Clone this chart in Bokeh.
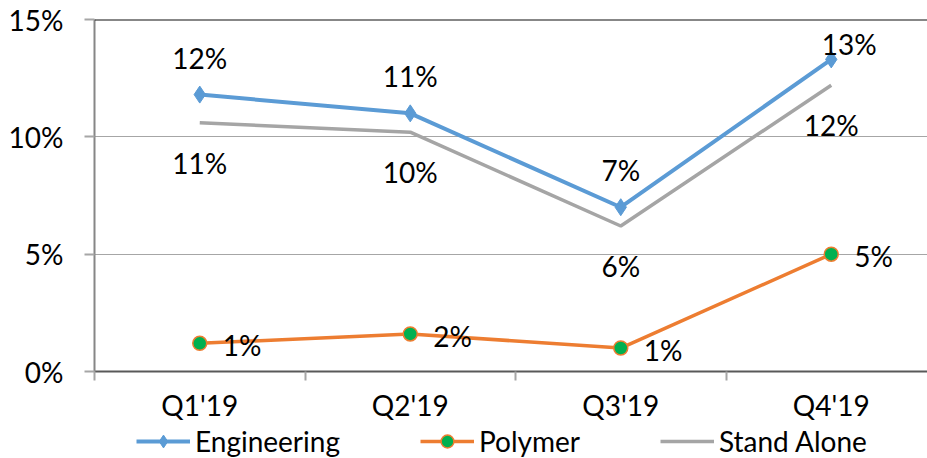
import numpy as np
from bokeh.plotting import figure
from bokeh.layouts import column
from bokeh.core.properties import value
from bokeh.models import (ColumnDataSource, FixedTicker, PrintfTickFormatter,
                          Span, Legend, LegendItem, Range1d)
from bokeh.embed import file_html
from bokeh.resources import INLINE

# Quarterly margin data (in percent)
quarters = ["Q1'19", "Q2'19", "Q3'19", "Q4'19"]
engineering = [11.8, 11.0, 7.0, 13.3]
polymer = [1.2, 1.6, 1.0, 5.0]
stand_alone = [10.6, 10.2, 6.2, 12.2]
y_ticks = [0, 5, 10, 15]

FONT = "Lato"
FS = "28px"
BLUE, ORANGE, GREY, GREEN = "#5b9bd5", "#ed7d31", "#a5a5a5", "#00b050"

xc = list(np.arange(len(quarters)) + 0.5)

p = figure(width=927, height=424, output_backend="svg", toolbar_location=None,
           x_range=Range1d(0, 833 / 210.5), y_range=Range1d(0, 15),
           min_border_left=94, min_border_right=0, min_border_top=19,
           min_border_bottom=52)
p.outline_line_color = None
p.background_fill_color = "white"
p.border_fill_color = "white"

# grid
p.xgrid.visible = False
p.ygrid.ticker = FixedTicker(ticks=[5, 10])
p.ygrid.grid_line_color = "#a6a6a6"
p.ygrid.grid_line_width = 1
p.add_layout(Span(location=15, dimension="width", line_color="#111111",
                  line_width=2))

# y axis
ya = p.yaxis[0]
ya.ticker = FixedTicker(ticks=y_ticks)
ya.formatter = PrintfTickFormatter(format="%d%%")
ya.axis_line_color = "#868686"
ya.axis_line_width = 2
ya.major_tick_line_color = "#a6a6a6"
ya.major_tick_line_width = 2
ya.major_tick_out = 10
ya.major_tick_in = 0
ya.minor_tick_line_color = None
ya.major_label_standoff = 21
ya.major_label_text_font = FONT
ya.major_label_text_font_size = FS
ya.major_label_text_color = "#000000"

# x axis: labels at category centres, tick marks at category boundaries
xa = p.xaxis[0]
xa.ticker = FixedTicker(ticks=xc, minor_ticks=list(range(len(quarters))))
xa.major_label_overrides = {float(c): q for c, q in zip(xc, quarters)}
xa.axis_line_color = "#595959"
xa.axis_line_width = 2
xa.major_tick_line_color = None
xa.major_tick_out = 0
xa.minor_tick_line_color = "#a6a6a6"
xa.minor_tick_line_width = 2
xa.minor_tick_out = 9
xa.minor_tick_in = 0
xa.major_label_standoff = 7
xa.major_label_text_font = FONT
xa.major_label_text_font_size = FS
xa.major_label_text_color = "#000000"

fmt = lambda v: [f"{round(x):d}%" for x in v]

src_e = ColumnDataSource(dict(x=xc, y=engineering, lab=fmt(engineering),
                              dx=[0, 0, 0, 18], dy=[-37, -37, -37, -15]))
src_p = ColumnDataSource(dict(x=xc, y=polymer, lab=fmt(polymer)))
src_s = ColumnDataSource(dict(x=xc, y=stand_alone, lab=fmt(stand_alone)))

p.line("x", "y", source=src_s, line_color=GREY, line_width=3.5)
p.line("x", "y", source=src_e, line_color=BLUE, line_width=4)
p.scatter("x", "y", source=src_e, marker="diamond", size=17,
          fill_color=BLUE, line_color=BLUE)
p.line("x", "y", source=src_p, line_color=ORANGE, line_width=3.5)
p.scatter("x", "y", source=src_p, marker="circle", size=14,
          fill_color=GREEN, line_color=ORANGE, line_width=1.5)

# data labels
lab_kw = dict(text="lab", text_font=value(FONT), text_font_size=FS,
              text_color="#000000")
p.text("x", "y", source=src_e, x_offset="dx", y_offset="dy",
       text_align="center", text_baseline="middle", **lab_kw)
p.text("x", "y", source=src_s, y_offset=40,
       text_align="center", text_baseline="middle", **lab_kw)
p.text("x", "y", source=src_p, x_offset=23, y_offset=2,
       text_align="left", text_baseline="middle", **lab_kw)

# legend strip underneath the chart (glyphs sit outside its visible range)
lg = figure(width=927, height=34, output_backend="svg", toolbar_location=None,
            x_range=Range1d(0, 1), y_range=Range1d(0, 1),
            x_axis_location=None, y_axis_location=None,
            min_border=0, min_border_left=0, min_border_right=0,
            min_border_top=0, min_border_bottom=0)
lg.outline_line_color = None
lg.grid.visible = False
off = dict(x=[-5, -4], y=[-5, -5])
le_l = lg.line("x", "y", source=ColumnDataSource(off), line_color=BLUE,
               line_width=4)
le_m = lg.scatter("x", "y", source=ColumnDataSource(off), marker="diamond",
                  size=15, fill_color=BLUE, line_color=BLUE)
lp_l = lg.line("x", "y", source=ColumnDataSource(off), line_color=ORANGE,
               line_width=3.5)
lp_m = lg.scatter("x", "y", source=ColumnDataSource(off), marker="circle",
                  size=14, fill_color=GREEN, line_color=ORANGE, line_width=1.5)
ls_l = lg.line("x", "y", source=ColumnDataSource(off), line_color=GREY,
               line_width=3.5)

legend = Legend(items=[
    LegendItem(label="Engineering", renderers=[le_l, le_m]),
    LegendItem(label="Polymer", renderers=[lp_l, lp_m]),
    LegendItem(label="Stand Alone", renderers=[ls_l]),
], orientation="horizontal", location=(42, 0),
    label_text_font=FONT, label_text_font_size=FS,
    label_text_color="#000000", glyph_width=54, glyph_height=32,
    label_standoff=5, spacing=80, padding=0, margin=0,
    border_line_color=None, background_fill_alpha=0)
lg.add_layout(legend, "center")

open("out.html", "w").write(file_html(column(p, lg, spacing=0), INLINE))
